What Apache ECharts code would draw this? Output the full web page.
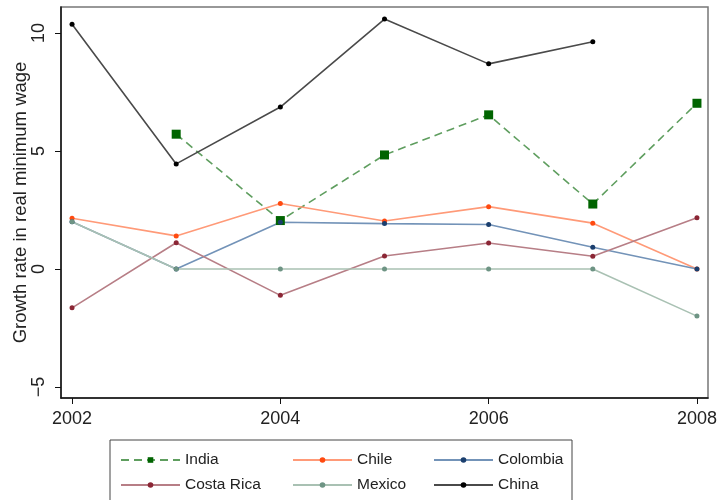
<!DOCTYPE html>
<html>
<head>
<meta charset="utf-8">
<script src="https://cdn.jsdelivr.net/npm/echarts@6/dist/echarts.min.js"></script>
<style>
  html, body { margin: 0; padding: 0; background: #fff; }
  #chart { width: 719px; height: 500px; }
</style>
</head>
<body>
<div id="chart"></div>
<script>
// years on the x axis
const years = [2002, 2003, 2004, 2005, 2006, 2007, 2008];
// growth rate in real minimum wage, per country (null = no data)
const india = [null, 5.71, 2.05, 4.83, 6.53, 2.75, 7.02];
const chile = [2.15, 1.40, 2.77, 2.03, 2.64, 1.94, 0];
const colombia = [2.0, 0, 1.98, 1.92, 1.88, 0.92, 0];
const costaRica = [-1.65, 1.11, -1.12, 0.55, 1.10, 0.54, 2.17];
const mexico = [2.0, 0, 0, 0, 0, 0, -2.0];
const china = [10.37, 4.45, 6.86, 10.59, 8.69, 9.63, null];
// tick labels
const xTicks = [2002, 2004, 2006, 2008];
const yTicks = [-5, 0, 5, 10];

const font = 'Liberation Sans';
const pairs = arr => years.map((y, i) => [y, arr[i]]);

//一條國家線的設定
function line(name, data, lineColor, dotColor, opts) {
    return Object.assign({
        name: name,
        type: 'line',
        data: pairs(data),
        symbol: 'circle',
        symbolSize: 5,
        connectNulls: false,
        lineStyle: { color: lineColor, width: 1.6 },
        itemStyle: { color: dotColor },
        emphasis: { disabled: true },
        animation: false
    }, opts || {});
}

const myChart = echarts.init(document.getElementById('chart'));

//圖例: 每個項目一個, 排成兩列三欄
function legendItem(left, top, name) {
    return {
        left: left,
        top: top,
        itemWidth: 59,
        itemHeight: 7,
        data: [name],
        textStyle: { fontFamily: font, fontSize: 15.5, color: '#222' }
    };
}

myChart.setOption({
    animation: false,
    grid: {
        left: 61, right: 11, top: 7, bottom: 102,
        outerBoundsMode: 'none',
        containLabel: false,
        show: true, borderColor: '#777', borderWidth: 1.5
    },
    xAxis: {
        type: 'value',
        min: 2001.894,
        max: 2008.106,
        axisLine: { show: true, onZero: false, lineStyle: { color: '#111', width: 1.5 } },
        axisTick: { show: true, length: 6, customValues: xTicks, lineStyle: { color: '#111' } },
        axisLabel: {
            customValues: xTicks, margin: 12,
            fontFamily: font, fontSize: 18, color: '#222',
            formatter: v => String(v)
        },
        splitLine: { show: false }
    },
    yAxis: {
        type: 'value',
        min: -5.47,
        max: 11.1,
        name: 'Growth rate in real minimum wage',
        nameLocation: 'middle',
        nameGap: 31,
        nameMoveOverlap: false,
        nameTextStyle: { fontFamily: font, fontSize: 18.5, color: '#222' },
        axisLine: { show: true, onZero: false, lineStyle: { color: '#111', width: 1.5 } },
        axisTick: { show: true, length: 6, customValues: yTicks, lineStyle: { color: '#111' } },
        axisLabel: {
            customValues: yTicks, rotate: 90, margin: 13,
            fontFamily: font, fontSize: 18, color: '#222',
            formatter: v => (v < 0 ? '\u2212' + Math.abs(v) : String(v))
        },
        splitLine: { show: false }
    },
    legend: [
        legendItem(115, 447, 'India'),
        legendItem(287, 447, 'Chile'),
        legendItem(428, 447, 'Colombia'),
        legendItem(115, 472, 'Costa Rica'),
        legendItem(287, 472, 'Mexico'),
        legendItem(428, 472, 'China')
    ],
    graphic: [{
        type: 'rect',
        shape: { x: 110, y: 440, width: 462, height: 70 },
        style: { fill: 'none', stroke: '#444', lineWidth: 1 },
        silent: true
    }],
    series: [
        line('India', india, '#5f9e5f', '#006400', {
            symbol: 'rect', symbolSize: 9,
            lineStyle: { color: '#5f9e5f', width: 1.6, type: [8, 5] }
        }),
        line('Chile', chile, '#ff9a78', '#ff4a10'),
        line('Colombia', colombia, '#7393b8', '#1b3f6e'),
        line('Costa Rica', costaRica, '#b77e86', '#8b2635'),
        line('Mexico', mexico, '#a9c1b3', '#6e9484'),
        line('China', china, '#4a4a4a', '#000000')
    ]
});
</script>
</body>
</html>
